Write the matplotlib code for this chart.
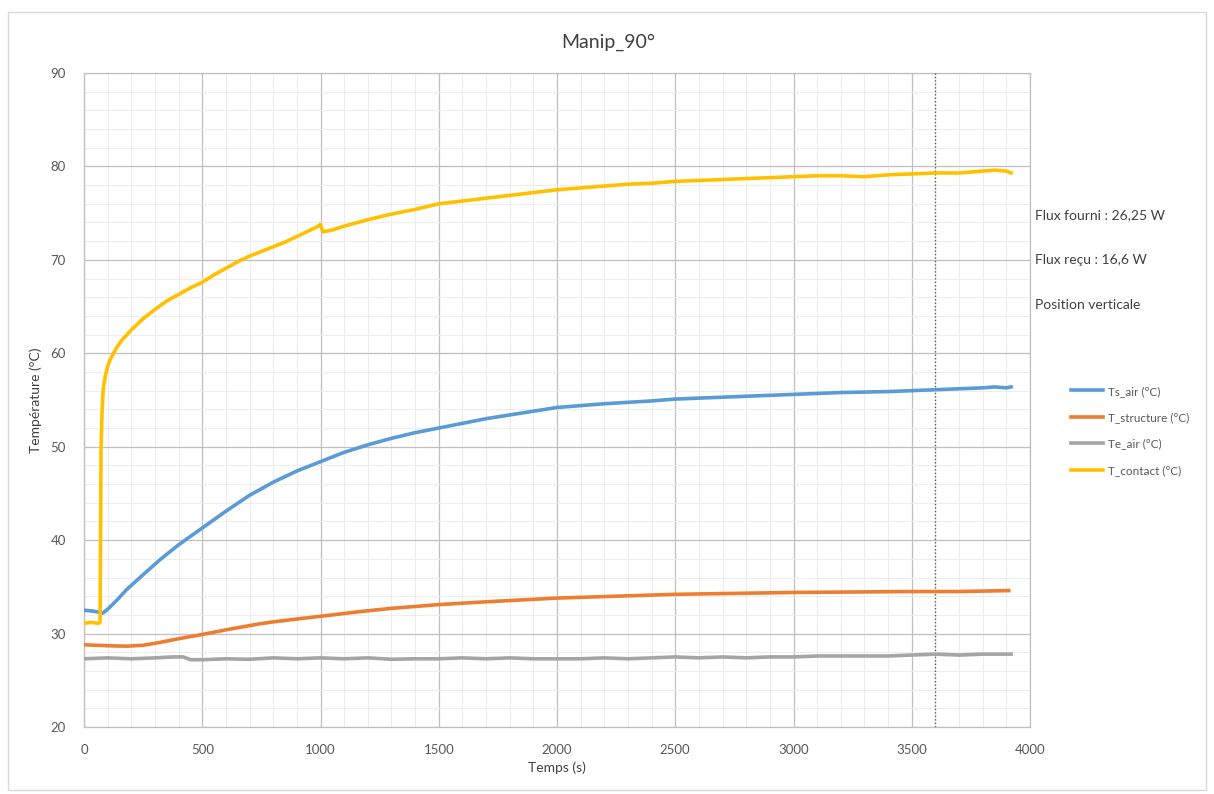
import matplotlib
matplotlib.use("Agg")
import matplotlib.pyplot as plt
from matplotlib.patches import Rectangle
from matplotlib.ticker import MultipleLocator

plt.rcParams['font.family'] = ['Lato', 'DejaVu Sans']

# ---------------- data ----------------
t_contact = [0, 30, 60, 68, 70, 72, 76, 81, 90, 100, 110, 125, 138, 160, 200, 250, 300, 350,
             400, 450, 500, 550, 600, 650, 700, 750, 800, 850, 900, 950, 990, 1000, 1010,
             1050, 1100, 1200, 1300, 1400, 1500, 1600, 1700, 1800, 1900, 2000, 2100, 2200,
             2300, 2400, 2500, 2600, 2700, 2800, 2900, 3000, 3100, 3200, 3300, 3400, 3500,
             3600, 3700, 3800, 3850, 3900, 3920]
T_contact = [31.1, 31.2, 31.1, 31.2, 40.0, 49.7, 53.5, 56.1, 57.6, 58.6, 59.3, 60.0, 60.6,
             61.4, 62.5, 63.7, 64.7, 65.6, 66.3, 67.0, 67.6, 68.4, 69.1, 69.8, 70.4, 70.9,
             71.4, 71.9, 72.5, 73.1, 73.6, 73.8, 73.0, 73.2, 73.6, 74.3, 74.9, 75.4, 76.0,
             76.3, 76.6, 76.9, 77.2, 77.5, 77.7, 77.9, 78.1, 78.2, 78.4, 78.5, 78.6, 78.7,
             78.8, 78.9, 79.0, 79.0, 78.9, 79.1, 79.2, 79.3, 79.3, 79.5, 79.6, 79.5, 79.3]

t_ts = [0, 40, 80, 100, 140, 180, 250, 321, 400, 500, 600, 700, 800, 900, 1000, 1100, 1200,
        1300, 1400, 1500, 1600, 1700, 1800, 1900, 2000, 2200, 2400, 2500, 2600, 2800, 3000,
        3200, 3400, 3600, 3800, 3850, 3900, 3920]
Ts_air = [32.5, 32.4, 32.2, 32.6, 33.6, 34.7, 36.3, 37.9, 39.5, 41.3, 43.1, 44.8, 46.2,
          47.4, 48.4, 49.4, 50.2, 50.9, 51.5, 52.0, 52.5, 53.0, 53.4, 53.8, 54.2, 54.6,
          54.9, 55.1, 55.2, 55.4, 55.6, 55.8, 55.9, 56.1, 56.3, 56.4, 56.3, 56.4]

t_struct = [0, 100, 180, 250, 321, 400, 500, 600, 744, 800, 913, 1000, 1167, 1300, 1500,
            1700, 2000, 2250, 2500, 3000, 3500, 3700, 3910]
T_structure = [28.8, 28.7, 28.65, 28.75, 29.05, 29.45, 29.9, 30.4, 31.05, 31.25, 31.6, 31.85,
               32.35, 32.7, 33.1, 33.4, 33.8, 34.0, 34.2, 34.4, 34.5, 34.5, 34.6]

t_te = [0, 100, 200, 300, 380, 420, 450, 500, 600, 700, 800, 900, 1000, 1100, 1200, 1300,
        1400, 1500, 1600, 1700, 1800, 1900, 2000, 2100, 2200, 2300, 2400, 2500, 2600, 2700,
        2800, 2900, 3000, 3100, 3200, 3300, 3400, 3500, 3600, 3700, 3800, 3920]
Te_air = [27.3, 27.4, 27.3, 27.4, 27.5, 27.5, 27.2, 27.2, 27.3, 27.25, 27.4, 27.3, 27.4, 27.3,
          27.4, 27.25, 27.3, 27.3, 27.4, 27.3, 27.4, 27.3, 27.3, 27.3, 27.4, 27.3, 27.4, 27.5,
          27.4, 27.5, 27.4, 27.5, 27.5, 27.6, 27.6, 27.6, 27.6, 27.7, 27.8, 27.7, 27.8, 27.8]

labels = ["Ts_air (°C)", "T_structure (°C)", "Te_air (°C)", "T_contact (°C)"]
colors = ["#5B9BD5", "#ED7D31", "#A5A5A5", "#FFC000"]
annotations = ["Flux fourni : 26,25 W", "Flux reçu : 16,6 W", "Position verticale"]
v_line_t = 3600

# ---------------- figure ----------------
W, H = 1214, 794
fig = plt.figure(figsize=(W / 100, H / 100), dpi=100)
fig.patches.append(Rectangle((8 / W, 1 - 790 / H), 1198 / W, 778 / H, transform=fig.transFigure,
                             fill=False, edgecolor="#D9D9D9", linewidth=1))

ax = fig.add_axes([84 / W, 1 - 727 / H, (1030 - 84) / W, (727 - 73) / H])
lw = 2.6
ax.plot(t_ts, Ts_air, color=colors[0], lw=lw, label=labels[0], zorder=5, solid_joinstyle="round")
ax.plot(t_struct, T_structure, color=colors[1], lw=lw, label=labels[1], zorder=5, solid_joinstyle="round")
ax.plot(t_te, Te_air, color=colors[2], lw=lw, label=labels[2], zorder=5, solid_joinstyle="round")
ax.plot(t_contact, T_contact, color=colors[3], lw=lw, label=labels[3], zorder=6, solid_joinstyle="round")
ax.axvline(v_line_t, color="#595959", lw=1.0, linestyle=(0, (1, 1.5)), zorder=4)

ax.set_xlim(0, 4000)
ax.set_ylim(20, 90)
ax.xaxis.set_major_locator(MultipleLocator(500))
ax.xaxis.set_minor_locator(MultipleLocator(100))
ax.yaxis.set_major_locator(MultipleLocator(10))
ax.yaxis.set_minor_locator(MultipleLocator(2))
ax.grid(which="major", color="#BFBFBF", lw=0.9)
ax.grid(which="minor", color="#EDEDED", lw=0.8)
ax.set_axisbelow(True)
for s in ax.spines.values():
    s.set_color("#BFBFBF")
    s.set_linewidth(0.9)
ax.tick_params(which="both", length=0, labelsize=9.5, labelcolor="#595959")
ax.tick_params(axis="x", pad=12)
ax.tick_params(axis="y", pad=13)

ax.set_xlabel("Temps (s)", fontsize=10, color="#404040", labelpad=4)
ax.set_ylabel("Température (°C)", fontsize=10, color="#404040", labelpad=6)
fig.text(608 / W, 1 - 42 / H, "Manip_90°", ha="center", va="center", fontsize=14, color="#404040")

for i, txt in enumerate(annotations):
    fig.text(1035 / W, 1 - (215 + 45 * i) / H, txt, ha="left", va="center", fontsize=10,
             color="#404040")

fig.legend(loc="upper left", bbox_to_anchor=(1060 / W, 1 - 375 / H), frameon=False,
           fontsize=8.5, labelspacing=1.3, handlelength=2.7, handletextpad=0.45,
           labelcolor="#595959")

fig.savefig("out.png", dpi=100, facecolor="white")
